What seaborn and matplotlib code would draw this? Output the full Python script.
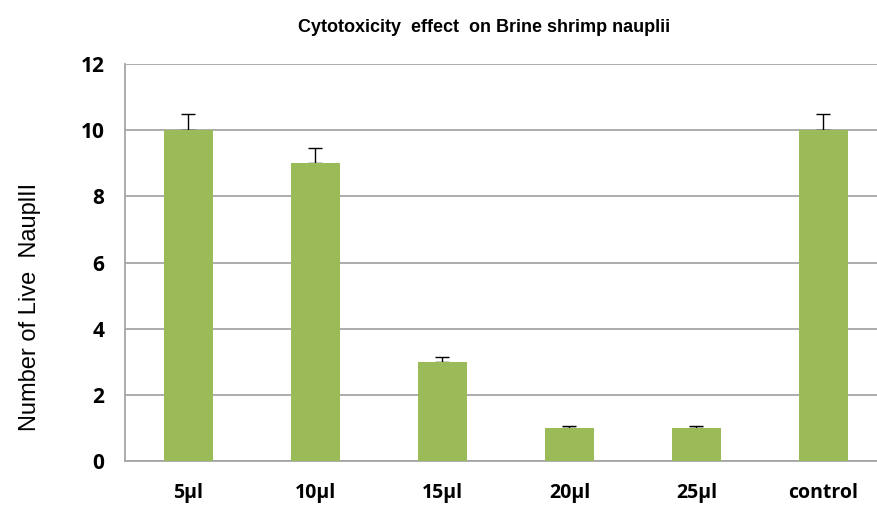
import numpy as np
import matplotlib
matplotlib.use('Agg')
import matplotlib.pyplot as plt
import seaborn as sns

sns.set_style('white')
plt.rcParams['text.color'] = 'black'
plt.rcParams['xtick.color'] = 'black'
plt.rcParams['ytick.color'] = 'black'

doses = ['5µl', '10µl', '15µl', '20µl', '25µl', 'control']
live_nauplii = [10, 9, 3, 1, 1, 10]
err_up = [0.5, 0.45, 0.15, 0.05, 0.05, 0.5]

BAR_GREEN = '#9BBB59'
GRID_GRAY = '#A6A6A6'

fig = plt.figure(figsize=(8.78, 5.15), dpi=100)
ax = fig.add_axes([125 / 878, 1 - 461 / 515, 762 / 878, 397 / 515])

sns.barplot(x=doses, y=live_nauplii, color=BAR_GREEN, width=0.39,
            saturation=1, errorbar=None, linewidth=0, ax=ax, zorder=3)
# error bars drawn under the bars so only the upper half shows
ax.errorbar(np.arange(len(doses)), live_nauplii,
            yerr=[np.zeros(len(doses)), err_up], fmt='none',
            ecolor='black', elinewidth=1, capsize=5, capthick=1, zorder=2)

ax.set_xlim(-0.5, len(doses) - 0.5)
ax.set_ylim(0, 12)
ax.set_yticks(range(0, 13, 2))
ax.yaxis.grid(True, color=GRID_GRAY, linewidth=1.3, zorder=0)
ax.set_axisbelow(True)

for s in ['top', 'right']:
    ax.spines[s].set_visible(False)
for s in ['left', 'bottom']:
    ax.spines[s].set_color(GRID_GRAY)
    ax.spines[s].set_linewidth(1.3)

# category boundary ticks on x axis
ax.set_xticks(np.arange(len(doses)))
ax.set_xticklabels(doses, fontsize=14, fontweight='bold', family=['Open Sans', 'DejaVu Sans'])
ax.set_xticks(np.arange(-0.5, len(doses), 1), minor=True)
ax.tick_params(axis='x', which='major', length=0, pad=16, labelcolor='black')
ax.tick_params(axis='x', which='minor', length=7, color=GRID_GRAY, width=1.3, direction='out')
ax.tick_params(axis='y', length=9, color=GRID_GRAY, width=1.3, direction='out', pad=6, labelcolor='black')
for lbl in ax.get_yticklabels():
    lbl.set_fontsize(15)
    lbl.set_fontweight('bold')
    lbl.set_family(['Open Sans', 'DejaVu Sans'])

ax.set_ylabel('')
fig.text(30 / 878, 1 - 307 / 515, 'Number of Live  NauplII', rotation=90, ha='center', va='center',
         fontsize=17, color='black', family=['Liberation Sans', 'DejaVu Sans'])
fig.text(0.551, 0.947, 'Cytotoxicity  effect  on Brine shrimp nauplii', ha='center', va='center',
         fontsize=13, fontweight='bold', color='black',
         family=['Liberation Sans Narrow', 'Liberation Sans', 'DejaVu Sans'])

fig.savefig('out.png', dpi=100)
